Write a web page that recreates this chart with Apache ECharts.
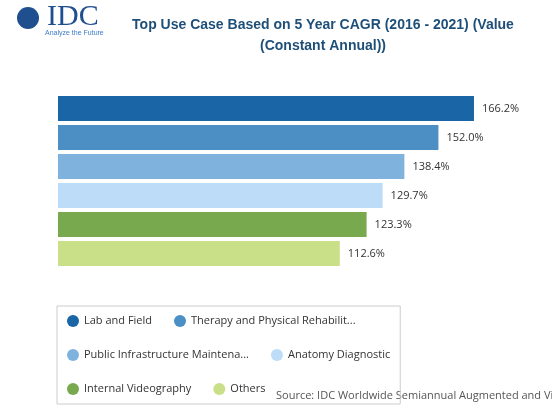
<!DOCTYPE html>
<html>
<head>
<meta charset="utf-8">
<script src="https://cdn.jsdelivr.net/npm/echarts@6/dist/echarts.min.js"></script>
<style>html,body{margin:0;padding:0;background:#fff}#chart{width:552px;height:420px}</style>
</head>
<body>
<div id="chart"></div>
<script>
var chart = echarts.init(document.getElementById('chart'))
// data
var categories = ['Lab and Field', 'Therapy and Physical Rehabilitation', 'Public Infrastructure Maintenance',
    'Anatomy Diagnostic', 'Internal Videography', 'Others'];
var values = [166.2, 152.0, 138.4, 129.7, 123.3, 112.6];
var colors = ['#1a65a5', '#4b8fc5', '#7fb3de', '#bcdcf8', '#78a94f', '#c9df88'];

var series = categories.map(function (name, i) {
    var d = categories.map(function (c, j) { return j === i ? values[i] : '-'; });
    return {
        name: name,
        type: 'bar',
        stack: 'all',
        barWidth: 25,
        data: d,
        itemStyle: {color: colors[i]},
        label: {
            show: true, position: 'right', distance: 8,
            color: '#333', fontSize: 11, fontFamily: 'Open Sans',
            formatter: function (p) { return p.value.toFixed(1) + '%'; }
        }
    };
});

var option = {
    animation: false,
    title: {
        text: 'Top Use Case Based on 5 Year CAGR (2016 - 2021) (Value\n(Constant Annual))',
        left: 318, top: 10, textAlign: 'center',
        textStyle: {color: '#1e4f78', fontSize: 14, fontWeight: 'bold', fontFamily: 'Arial', lineHeight: 21}
    },
    graphic: [
        {type: 'text', left: 47, top: 2, style: {text: 'IDC', font: '30px "Liberation Serif"', fill: '#1f4f8f'}},
        {type: 'circle', shape: {cx: 28, cy: 18, r: 11}, style: {fill: '#1f4f8f'}},
        {type: 'text', left: 45, top: 30, style: {text: 'Analyze the Future', font: '7px Arial', fill: '#3a7bc8'}},
        {type: 'text', left: 276, top: 390, style: {
            text: 'Source: IDC Worldwide Semiannual Augmented and Virtual Reality Spending Guide, 2016H2',
            font: '11px "Open Sans"', fill: '#555', textAlign: 'center'}}
    ],
    grid: {left: 58, top: 94, width: 450.5, height: 174},
    xAxis: {type: 'value', min: 0, max: 180, show: false},
    yAxis: {type: 'category', data: categories, inverse: true, show: false},
    legend: {
        left: 57, top: 306, width: 411, padding: [9, 10, 9, 10],
        borderColor: '#ccc', borderWidth: 1,
        icon: 'circle', itemWidth: 12, itemHeight: 12, itemGap: 22,
        textStyle: {color: '#333', fontSize: 11, fontFamily: 'Open Sans'},
        formatter: function (n) { return n.length > 30 ? n.slice(0, 30) + '...' : n; },
        data: categories
    },
    series: series
};

chart.setOption(option);
</script>
</body>
</html>
